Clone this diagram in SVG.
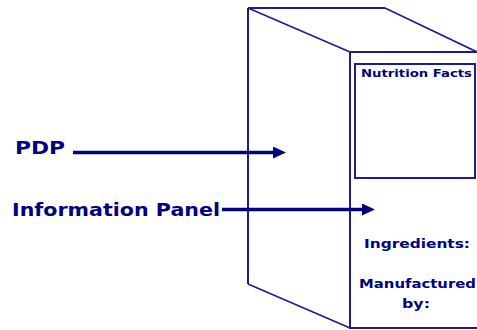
<svg xmlns="http://www.w3.org/2000/svg" width="477" height="330" viewBox="0 0 477 330">
<style>
.edge{fill:none;stroke:#1c1c96;stroke-width:2;stroke-linejoin:miter}
.slant{fill:none;stroke:#1c1c96;stroke-width:1.6}
.lbl{font-family:"DejaVu Sans",sans-serif;font-weight:bold;fill:#000080}
.conn{stroke:#000080;stroke-width:3.5;fill:none}
</style>
<defs>
<marker id="ah" markerUnits="userSpaceOnUse" markerWidth="14" markerHeight="13" refX="0" refY="6" orient="auto">
<path d="M0,0 L13,6 L0,12 z" fill="#000080"/>
</marker>
</defs>
<rect width="477" height="330" fill="#ffffff"/>
<g id="box">
<path class="slant" d="M248,8 L350,52 M385,8 L477,52 M248,284 L350,328"/>
<path class="edge" d="M248,8 L385,8 M248,8 L248,284"/>
<rect class="edge" x="350" y="52" width="128" height="276"/>
</g>
<g id="nutrition">
<rect class="edge" x="355" y="64" width="120" height="114"/>
<text class="lbl" x="361" y="77" font-size="10" textLength="111" lengthAdjust="spacingAndGlyphs">Nutrition Facts</text>
</g>
<g id="ingredients">
<text class="lbl" x="364" y="247.5" font-size="13" textLength="106" lengthAdjust="spacingAndGlyphs">Ingredients:</text>
</g>
<g id="manufactured">
<text class="lbl" x="359" y="288" font-size="13" textLength="117" lengthAdjust="spacingAndGlyphs">Manufactured</text>
<text class="lbl" x="402" y="307.5" font-size="13" textLength="28" lengthAdjust="spacingAndGlyphs">by:</text>
</g>
<g id="pdp">
<text class="lbl" x="15" y="154" font-size="17" textLength="50" lengthAdjust="spacingAndGlyphs">PDP</text>
</g>
<g id="infopanel">
<text class="lbl" x="12" y="216" font-size="18" textLength="208" lengthAdjust="spacingAndGlyphs">Information Panel</text>
</g>
<g id="connectors">
<line class="conn" x1="73" y1="152.5" x2="273" y2="152.5" marker-end="url(#ah)"/>
<line class="conn" x1="222" y1="209.5" x2="362" y2="209.5" marker-end="url(#ah)"/>
</g>
</svg>
